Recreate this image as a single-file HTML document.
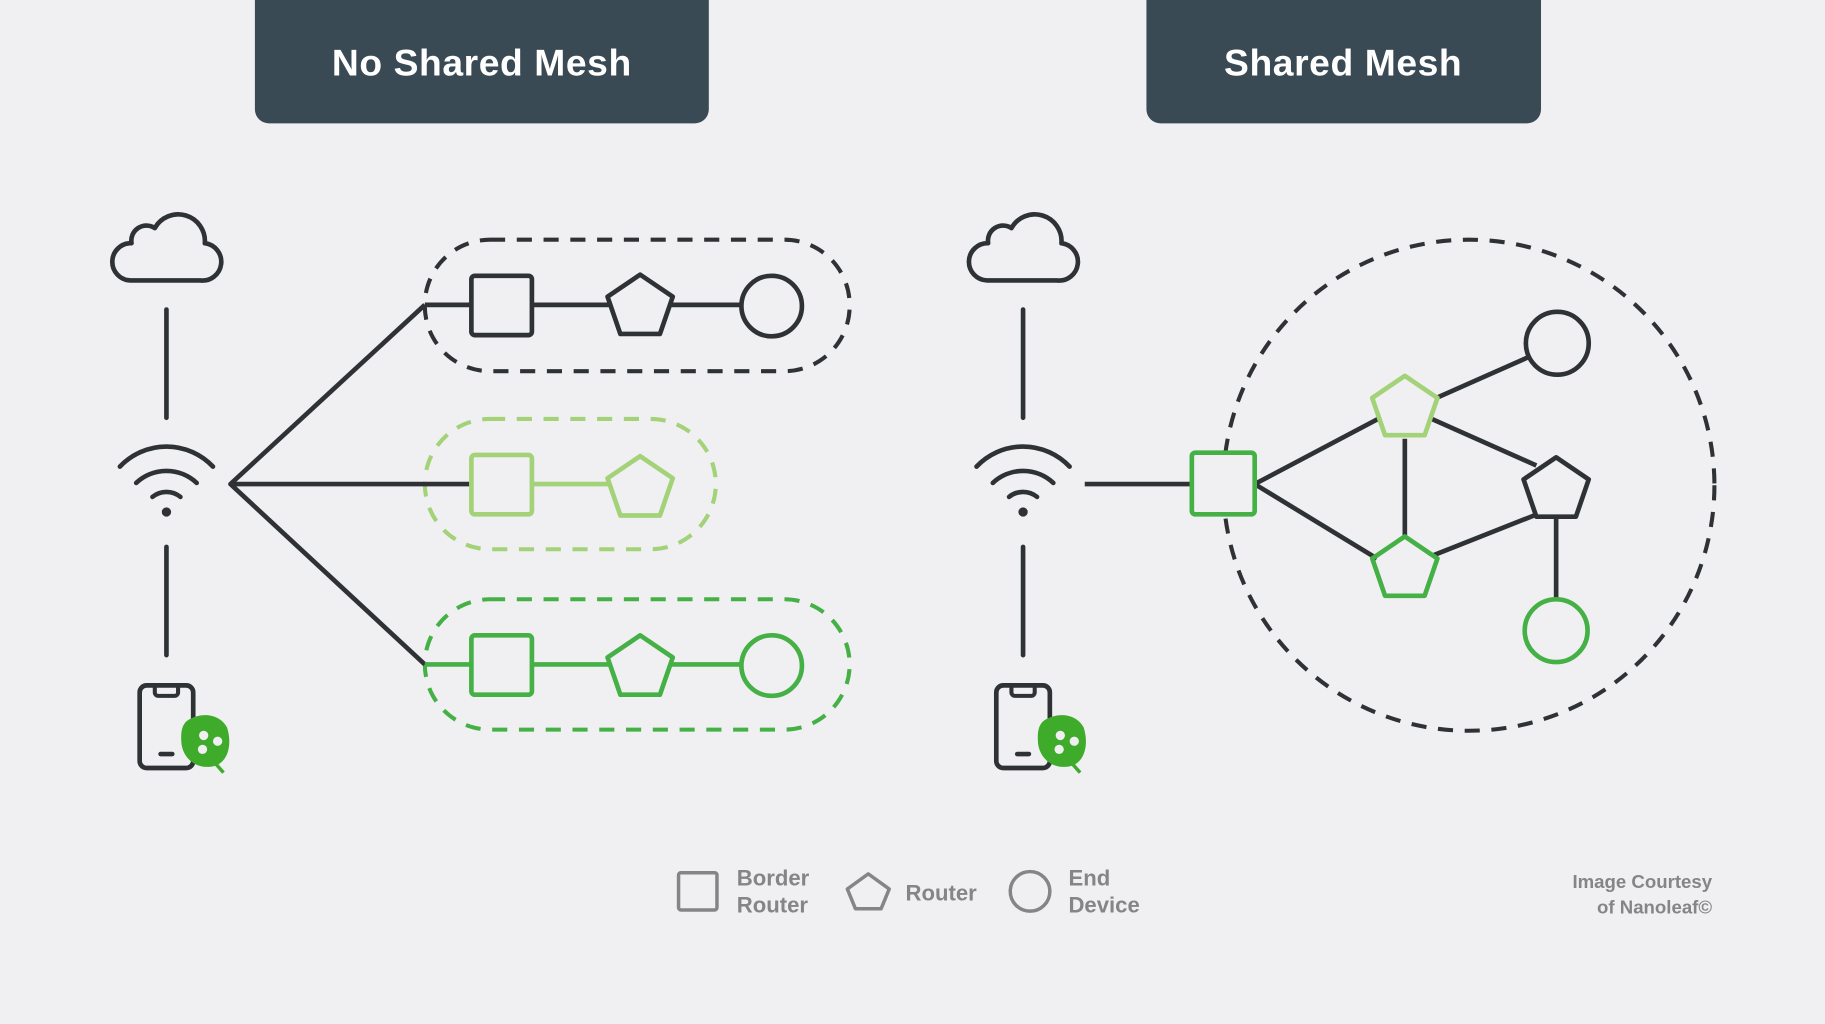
<!DOCTYPE html>
<html><head><meta charset="utf-8"><style>
html,body{margin:0;padding:0;background:#f0f0f2;}
svg{display:block}
text{font-family:"Liberation Sans",sans-serif;font-weight:bold}
</style></head><body>
<svg width="1825" height="1024" viewBox="0 0 1568 880" preserveAspectRatio="none" xmlns="http://www.w3.org/2000/svg">
<defs>
<symbol id="pent" viewBox="-30 -30 60 60" overflow="visible">
<polygon points="0,-27 28,-8 17,24 -17,24 -28,-8" stroke-linejoin="round"/>
</symbol>
<g id="cloud" fill="none" stroke="#2f3235" stroke-width="4" stroke-linejoin="round">
<path d="M112,241 H172 A16,16 0 0 0 176,209 A23,23 0 0 0 133,196 A13,13 0 0 0 113,209 A16,16 0 0 0 112,241 Z"/>
</g>
<g id="wifi" fill="none" stroke="#2f3235" stroke-width="4" stroke-linecap="round">
<path d="M103,401 A55,55 0 0 1 183,401"/>
<path d="M117,415 A38,38 0 0 1 169,415"/>
<path d="M131,427 A19,19 0 0 1 155,427"/>
<circle cx="143" cy="440" r="4" fill="#2f3235" stroke="none"/>
</g>
<g id="phone">
<rect x="120" y="589" width="46" height="71" rx="6" fill="none" stroke="#2f3235" stroke-width="4"/>
<path d="M133,589 v6 a3,3 0 0 0 3,3 h14 a3,3 0 0 0 3,-3 v-6" fill="none" stroke="#2f3235" stroke-width="3.5"/>
<line x1="138" y1="648" x2="148" y2="648" stroke="#2f3235" stroke-width="4" stroke-linecap="round"/>
<path d="M160,620 C170,612 188,612 195,625 C200,640 196,658 180,659 C168,660 158,652 156,640 C155,630 156,624 160,620 Z" fill="#3fab2a"/>
<line x1="185" y1="656" x2="192" y2="664" stroke="#3fab2a" stroke-width="3"/>
<circle cx="175" cy="632" r="4" fill="#f0f0f2"/><circle cx="187" cy="637" r="4" fill="#f0f0f2"/><circle cx="174" cy="644" r="4" fill="#f0f0f2"/>
</g>
</defs>
<rect width="1568" height="880" fill="#f0f0f2"/>
<path d="M219,0 H609 V94 a12,12 0 0 1 -12,12 H231 a12,12 0 0 1 -12,-12 Z" fill="#3a4a54"/>
<text x="414" y="65" font-size="32" fill="#fff" text-anchor="middle" letter-spacing="0.5">No Shared Mesh</text>
<path d="M985,0 H1324 V94 a12,12 0 0 1 -12,12 H997 a12,12 0 0 1 -12,-12 Z" fill="#3a4a54"/>
<text x="1154" y="65" font-size="32" fill="#fff" text-anchor="middle" letter-spacing="0.5">Shared Mesh</text>

<use href="#cloud"/>
<use href="#wifi"/>
<use href="#phone"/>
<g stroke="#2f3235" stroke-width="4" stroke-linecap="round">
<line x1="143" y1="266" x2="143" y2="359"/>
<line x1="143" y1="470" x2="143" y2="563"/>
</g>
<g fill="none" stroke-width="3.5">
<rect x="365" y="206" width="365" height="113" rx="56" stroke="#2f3235" stroke-dasharray="13,10"/>
<rect x="365" y="360" width="250" height="112" rx="56" stroke="#a3d279" stroke-dasharray="13,10"/>
<rect x="365" y="515" width="365" height="112" rx="56" stroke="#45b046" stroke-dasharray="13,10"/>
</g>
<g fill="none" stroke-width="4" stroke-linejoin="round">
<path d="M365,262 L198,416 L365,571 M198,416 H405" stroke="#2f3235"/>
<path d="M365,262 H405 M457,262 H523 M577,262 H637" stroke="#2f3235"/>
<rect x="405" y="237" width="52" height="51" rx="3" stroke="#2f3235"/>
<use href="#pent" x="520" y="233" width="60" height="60" stroke="#2f3235"/>
<circle cx="663" cy="263" r="26" stroke="#2f3235"/>
<path d="M457,416 H523" stroke="#a3d279"/>
<rect x="405" y="391" width="52" height="51" rx="3" stroke="#a3d279"/>
<use href="#pent" x="520" y="389" width="60" height="60" stroke="#a3d279"/>
<path d="M365,571 H405 M457,571 H523 M577,571 H637" stroke="#45b046"/>
<rect x="405" y="546" width="52" height="51" rx="3" stroke="#45b046"/>
<use href="#pent" x="520" y="543" width="60" height="60" stroke="#45b046"/>
<circle cx="663" cy="572" r="26" stroke="#45b046"/>
</g>

<g transform="translate(736,0)">
<use href="#cloud"/><use href="#wifi"/><use href="#phone"/>
<g stroke="#2f3235" stroke-width="4" stroke-linecap="round">
<line x1="143" y1="266" x2="143" y2="359"/>
<line x1="143" y1="470" x2="143" y2="563"/>
</g>
</g>
<circle cx="1262" cy="417" r="211" fill="none" stroke="#2f3235" stroke-width="3.5" stroke-dasharray="13,10"/>
<g fill="none" stroke-width="4" stroke-linejoin="round">
<path d="M932,416 H1024 M1078,416 L1184,360 M1078,416 L1183,480 M1234,342 L1313,307 M1230,360 L1320,400 M1207,377 V462 M1232,477 L1318,443" stroke="#2f3235"/>
<path d="M1337,446 V515" stroke="#2f3235"/>
<rect x="1024" y="389" width="54" height="53" rx="3" stroke="#45b046" fill="#f0f0f2"/>
<use href="#pent" x="1177" y="320" width="60" height="60" stroke="#a3d279"/>
<use href="#pent" x="1307" y="390" width="60" height="60" stroke="#2f3235"/>
<use href="#pent" x="1177" y="458" width="60" height="60" stroke="#45b046"/>
<circle cx="1338" cy="295" r="27" stroke="#2f3235"/>
<circle cx="1337" cy="542" r="27" stroke="#45b046"/>
</g>

<g fill="none" stroke="#858585" stroke-width="3" stroke-linejoin="round">
<rect x="583" y="750" width="33" height="32" rx="2"/>
<polygon points="746,751 764,764 757,781 735,781 728,764"/>
<circle cx="885" cy="766" r="17"/>
</g>
<g fill="#858585" font-size="19">
<text x="633" y="761">Border</text><text x="633" y="784">Router</text>
<text x="778" y="774">Router</text>
<text x="918" y="761">End</text><text x="918" y="784">Device</text>
</g>
<g fill="#858585" font-size="16" text-anchor="end">
<text x="1471" y="763">Image Courtesy</text>
<text x="1471" y="785">of Nanoleaf©</text>
</g>
</svg>
</body></html>
